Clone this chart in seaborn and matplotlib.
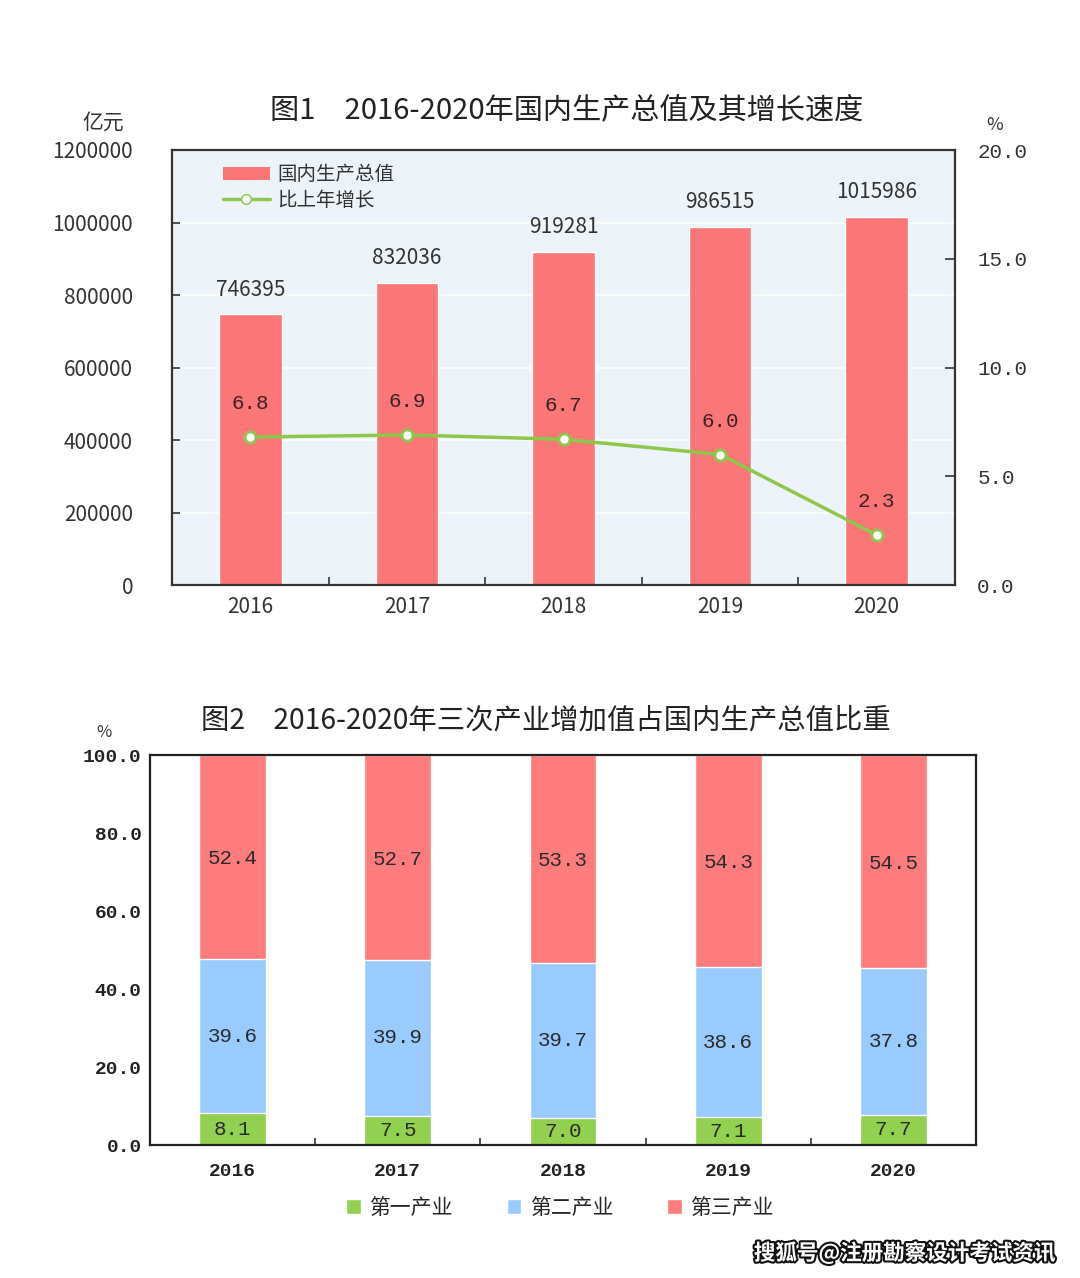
import numpy as np
import pandas as pd
import matplotlib
matplotlib.use("Agg")
import matplotlib.pyplot as plt
import matplotlib.patheffects as pe
from matplotlib.patches import Patch
from matplotlib.lines import Line2D
from matplotlib.ticker import FixedLocator
import seaborn as sns

# ---------------- data ----------------
years = ["2016", "2017", "2018", "2019", "2020"]
gdp = [746395, 832036, 919281, 986515, 1015986]
growth = [6.8, 6.9, 6.7, 6.0, 2.3]
primary = [8.1, 7.5, 7.0, 7.1, 7.7]
secondary = [39.6, 39.9, 39.7, 38.6, 37.8]
tertiary = [52.4, 52.7, 53.3, 54.3, 54.5]
left_ticks = [0, 200000, 400000, 600000, 800000, 1000000, 1200000]
right_ticks = [0, 5, 10, 15, 20]
pct_ticks = [0, 20, 40, 60, 80, 100]

title1 = "图1　2016-2020年国内生产总值及其增长速度"
title2 = "图2　2016-2020年三次产业增加值占国内生产总值比重"

sns.set_theme(style="white")
plt.rcParams["font.family"] = ["Noto Sans CJK SC", "DejaVu Sans"]
MONO = ["Liberation Mono", "Noto Sans CJK SC"]

RED = "#fb7676"
RED2 = "#ff7c7c"
BLUE = "#99cbff"
GREEN = "#92d050"
LINEG = "#8cc84b"
TXT = "#333333"

fig = plt.figure(figsize=(10.8, 12.78), dpi=100)

# ================= chart 1 =================
ax = fig.add_axes([172/1080, 1-585/1278, (955-172)/1080, (585-150)/1278])
ax.set_facecolor("#edf4f9")
df1 = pd.DataFrame({"year": years, "gdp": gdp})
sns.barplot(data=df1, x="year", y="gdp", color=RED, width=0.4, ax=ax,
            saturation=1, zorder=2)
ax.set_xlim(-0.5, 4.5)
ax.set_ylim(0, 1200000)
ax.set_yticks(left_ticks)
ax.set_yticklabels([str(v) for v in left_ticks], fontsize=15, color=TXT)
ax.yaxis.grid(True, color="white", linewidth=1.2, zorder=0)
ax.set_axisbelow(True)
ax.set_xlabel("")
ax.set_ylabel("")
ax.set_xticks(range(len(years)))
ax.set_xticklabels(years, fontsize=15, color=TXT)
ax.xaxis.set_minor_locator(FixedLocator([0.5, 1.5, 2.5, 3.5]))
ax.tick_params(axis="x", which="major", length=0, pad=8)
ax.tick_params(axis="x", which="minor", direction="in", length=6, width=1.2, color=TXT, bottom=True)
ax.tick_params(axis="y", direction="in", length=6, width=1.2, color=TXT, pad=28, left=True)
for s in ax.spines.values():
    s.set_visible(True)
    s.set_color("#333333")
    s.set_linewidth(1.6)

for i, v in enumerate(gdp):
    ax.annotate(str(v), (i, v), xytext=(0, 10), textcoords="offset points",
                ha="center", va="bottom", fontsize=15, color=TXT)

ax2 = ax.twinx()
df2 = pd.DataFrame({"pos": np.arange(len(years)), "growth": growth})
sns.lineplot(data=df2, x="pos", y="growth", ax=ax2, color=LINEG, linewidth=2.5,
             marker="o", markersize=8, markerfacecolor="white",
             markeredgecolor=LINEG, markeredgewidth=2, zorder=5)
ax2.set_ylim(0, 20)
ax2.set_xlim(-0.5, 4.5)
ax2.set_yticks(right_ticks)
ax2.set_yticklabels([f"{v:.1f}" for v in right_ticks], fontsize=15, color=TXT, family=MONO)
ax2.tick_params(axis="y", direction="in", length=7, width=1.2, color=TXT, pad=16, right=True)
ax2.set_xlabel("")
ax2.set_ylabel("")
ax2.grid(False)
for s in ax2.spines.values():
    s.set_visible(False)
for i, v in enumerate(growth):
    ax2.annotate(f"{v:.1f}", (i, v), xytext=(0, 24), textcoords="offset points",
                 ha="center", va="center", fontsize=15, color="#3a2222", family=MONO)

handles = [Patch(facecolor=RED, edgecolor="none"),
           Line2D([0], [0], color=LINEG, linewidth=2.5, marker="o", markersize=7,
                  markerfacecolor="white", markeredgecolor=LINEG)]
leg = ax2.legend(handles, ["国内生产总值", "比上年增长"], loc="upper left",
                 bbox_to_anchor=(0.055, 0.985), frameon=False, fontsize=14,
                 handlelength=2.4, handleheight=0.7, handletextpad=0.4,
                 labelspacing=0.25, borderaxespad=0)
for t in leg.get_texts():
    t.set_color(TXT)

fig.text(567/1080, 1-110/1278, title1, ha="center", va="center", fontsize=21, color="#222222")
fig.text(103/1080, 1-123/1278, "亿元", ha="center", va="center", fontsize=15, color=TXT)
fig.text(995/1080, 1-125/1278, "%", ha="center", va="center", fontsize=13, color=TXT)

# ================= chart 2 =================
bx = fig.add_axes([150/1080, 1-1145/1278, (976-150)/1080, (1145-755)/1278])
bx.set_facecolor("white")
cum2 = [a + b for a, b in zip(primary, secondary)]
cum3 = [a + b + c for a, b, c in zip(primary, secondary, tertiary)]
df3 = pd.DataFrame({"year": years, "t": cum3, "s": cum2, "p": primary})
sns.barplot(data=df3, x="year", y="t", color=RED2, width=0.405, ax=bx, saturation=1)
sns.barplot(data=df3, x="year", y="s", color=BLUE, width=0.405, ax=bx, saturation=1)
sns.barplot(data=df3, x="year", y="p", color=GREEN, width=0.405, ax=bx, saturation=1)
bx.set_xlim(-0.5, 4.5)
bx.set_ylim(0, 100)
bx.set_yticks(pct_ticks)
bx.set_yticklabels([f"{v:.1f}" for v in pct_ticks], fontsize=14, color="#222222",
                   family=MONO, fontweight="bold")
bx.set_xticks(range(len(years)))
bx.set_xticklabels(years, fontsize=14, color="#222222", family=MONO, fontweight="bold")
bx.set_xlabel("")
bx.set_ylabel("")
bx.xaxis.set_minor_locator(FixedLocator([0.5, 1.5, 2.5, 3.5]))
bx.tick_params(axis="x", which="major", length=0, pad=13)
bx.tick_params(axis="x", which="minor", direction="in", length=5, width=1.2, color=TXT, bottom=True)
bx.tick_params(axis="y", length=0, pad=6)
for s in bx.spines.values():
    s.set_visible(True)
    s.set_color("#222222")
    s.set_linewidth(1.6)

for i in range(len(years)):
    bx.text(i, primary[i] / 2, f"{primary[i]:.1f}", ha="center", va="center",
            fontsize=15, color="#2a2a2a", family=MONO)
    bx.text(i, primary[i] + secondary[i] / 2, f"{secondary[i]:.1f}", ha="center", va="center",
            fontsize=15, color="#2a2a2a", family=MONO)
    bx.text(i, primary[i] + secondary[i] + tertiary[i] / 2 - 0.5, f"{tertiary[i]:.1f}",
            ha="center", va="center", fontsize=15, color="#2a2a2a", family=MONO)

fig.text(546/1080, 1-720/1278, title2, ha="center", va="center", fontsize=20.4, color="#222222")
fig.text(104/1080, 1-733/1278, "%", ha="center", va="center", fontsize=12, color=TXT)

leg2_handles = [Patch(facecolor=GREEN), Patch(facecolor=BLUE), Patch(facecolor=RED2)]
fig.legend(leg2_handles, ["第一产业", "第二产业", "第三产业"], loc="center", ncol=3,
           bbox_to_anchor=(560/1080, 1-1208/1278), frameon=False, fontsize=15,
           handlelength=0.7, handleheight=0.7, handletextpad=0.4, columnspacing=2.6)

fig.text(1055/1080, 1-1253/1278, "搜狐号@注册勘察设计考试资讯", ha="right", va="center",
         fontsize=15.5, fontweight="bold", color="white",
         path_effects=[pe.withStroke(linewidth=3, foreground="#111111")])

fig.savefig("out.png", dpi=100, facecolor="white")
